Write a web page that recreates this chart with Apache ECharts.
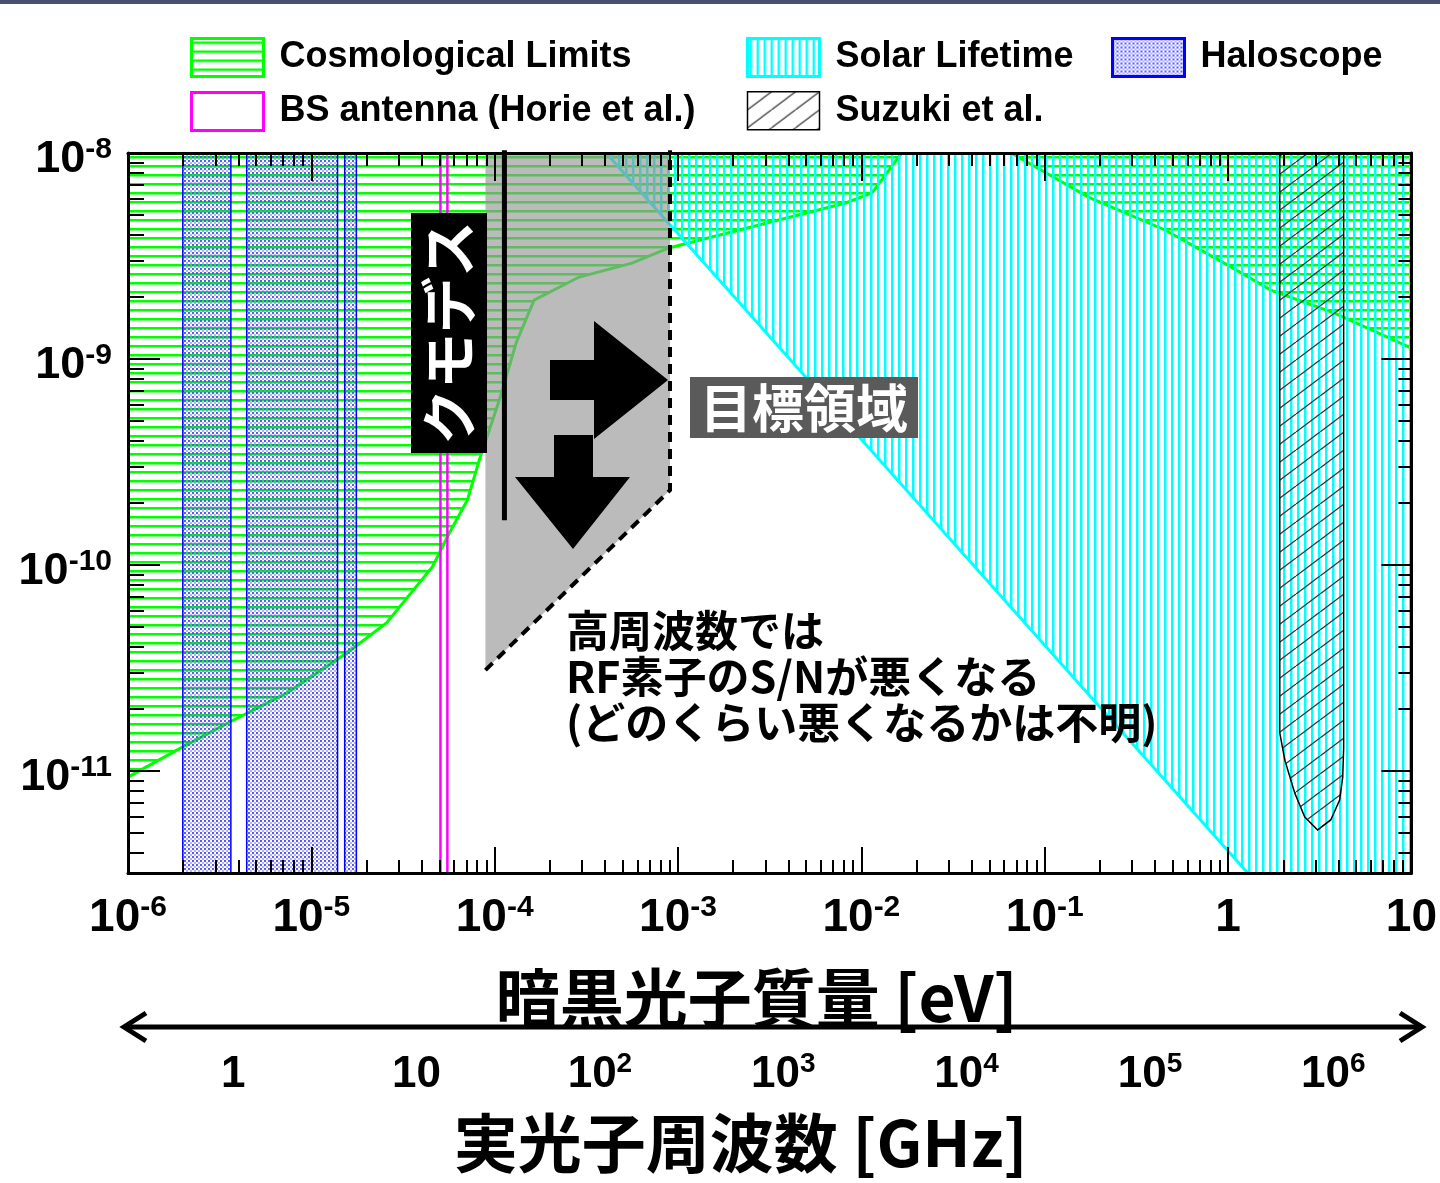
<!DOCTYPE html>
<html>
<head>
<meta charset="utf-8">
<title>暗黒光子探索 感度領域</title>
<script src="https://cdn.jsdelivr.net/npm/echarts@6/dist/echarts.min.js"></script>
<style>
html, body { margin: 0; padding: 0; background: #fff; }
#chart { width: 1440px; height: 1183px; }
</style>
</head>
<body>
<div id="chart"></div>
<script>
// axis ranges
var massMin = 1e-6, massMax = 10;        // eV
var epsMin = 3.2e-12, epsMax = 1e-8;     // kinetic mixing
var eVperGHz = 3.75e-6;                  // where the GHz scale sits on the eV axis

// tick labels
var massTicks = [1e-6, 1e-5, 1e-4, 1e-3, 1e-2, 1e-1, 1, 10];
var epsTicks = [1e-11, 1e-10, 1e-9, 1e-8];
var freqTicks = [1, 10, 1e2, 1e3, 1e4, 1e5, 1e6];

// Cosmological limits, lower edge (left part rising to the top, right part falling)
var cosmoLeftX = [1e-6, 1.99e-6, 3.59e-6, 7.34e-6, 1.56e-5, 2.57e-5, 4.57e-5, 5.66e-5, 7.10e-5, 8.24e-5,
                  1.06e-4, 1.31e-4, 1.64e-4, 2.89e-4, 5.61e-4, 8.92e-4, 1.53e-3, 3.54e-3, 8.20e-3, 1.14e-2, 1.66e-2];
var cosmoLeftY = [9.35e-12, 1.31e-11, 1.73e-11, 2.39e-11, 3.74e-11, 5.23e-11, 9.78e-11, 1.43e-10, 2.07e-10, 3.23e-10,
                  6.32e-10, 1.20e-9, 1.93e-9, 2.50e-9, 2.92e-9, 3.46e-9, 3.91e-9, 4.73e-9, 5.72e-9, 6.39e-9, 1e-8];
var cosmoRightX = [6.57e-2, 0.173, 0.453, 1.035, 1.71, 3.81, 10];
var cosmoRightY = [1e-8, 6.11e-9, 4.23e-9, 2.80e-9, 2.16e-9, 1.67e-9, 1.13e-9];

// Solar lifetime, lower edge
var solarX = [4.05e-4, 1.28];
var solarY = [1e-8, 3.2e-12];

// Haloscope bands (eV)
var haloLo = [1.99e-6, 4.44e-6, 1.52e-5];
var haloHi = [3.64e-6, 1.39e-5, 1.76e-5];

// BS antenna (Horie et al.)
var bsX = [5.06e-5, 5.52e-5];

// Suzuki et al. contour
var suzukiX = [1.914, 1.914, 2.04, 2.31, 2.62, 3.08, 3.63, 4.06, 4.22, 4.27, 4.27];
var suzukiY = [1e-8, 1.53e-11, 1.13e-11, 7.82e-12, 5.98e-12, 5.17e-12, 5.79e-12, 7.23e-12, 9.35e-12, 1.3e-11, 1e-8];

// target region (gray) and the クモデス reach
var targetX = [8.9e-5, 8.9e-5, 9.04e-4, 9.04e-4];
var targetY = [1e-8, 3.09e-11, 2.31e-10, 1.03e-8];
var kumodesX = [1.13e-4, 1.13e-4];
var kumodesY = [1.03e-8, 1.65e-10];

var NUM = 'Liberation Sans, Arial, sans-serif';
var JP = 'Noto Sans CJK JP, sans-serif';

function makePattern(w, h, draw) {
    var c = document.createElement('canvas');
    c.width = w; c.height = h;
    draw(c.getContext('2d'), w, h);
    return { image: c, repeat: 'repeat' };
}
var greenPat = makePattern(8, 9, function (ctx, w) {
    ctx.fillStyle = '#00ff00';
    ctx.fillRect(0, 3, w, 2.5);
});
var cyanPat = makePattern(7, 8, function (ctx, w, h) {
    ctx.fillStyle = '#00ffff';
    ctx.fillRect(2, 0, 2.5, h);
});
var dotPat = makePattern(4, 4, function (ctx) {
    ctx.fillStyle = 'rgba(80,80,255,1)';
    ctx.beginPath(); ctx.arc(1, 1, 1.15, 0, Math.PI * 2); ctx.fill();
    ctx.fillStyle = 'rgba(80,80,255,0.6)';
    ctx.beginPath(); ctx.arc(3, 3, 1, 0, Math.PI * 2); ctx.fill();
});
var hatchPat = makePattern(24, 18, function (ctx, w, h) {
    ctx.strokeStyle = '#333';
    ctx.lineWidth = 1.3;
    for (var k = -1; k <= 1; k++) {
        ctx.beginPath(); ctx.moveTo(k * w, h); ctx.lineTo(k * w + w, 0); ctx.stroke();
    }
});

function pts(api, xs, ys) {
    return xs.map(function (x, i) { return api.coord([x, ys[i]]); });
}

function minorTicks(lo, hi) {
    var out = [];
    for (var d = Math.floor(Math.log10(lo)); d < Math.ceil(Math.log10(hi)); d++) {
        for (var k = 2; k < 10; k++) {
            var v = k * Math.pow(10, d);
            if (v > lo && v < hi) out.push(v);
        }
    }
    return out;
}

function expLabel(v) {
    var e = Math.round(Math.log10(v));
    if (e === 0) return '1';
    if (e === 1) return '10';
    return '{b|10}{s|' + e + '}';
}

function tickAxis(kind, pos, len, ticks, extra) {
    var a = {
        type: 'log', logBase: 10, position: pos, z: 10,
        min: kind === 'x' ? massMin : epsMin,
        max: kind === 'x' ? massMax : epsMax,
        splitLine: { show: false },
        axisLine: { show: false },
        axisLabel: { show: false },
        axisTick: { show: true, inside: true, length: len, customValues: ticks, lineStyle: { color: '#000', width: 2 } }
    };
    return Object.assign(a, extra || {});
}

var frameLine = { show: true, onZero: false, lineStyle: { color: '#000', width: 3 } };
var supRich = {
    b: { fontSize: 46, fontWeight: 'bold', fontFamily: NUM, lineHeight: 50, color: '#000' },
    s: { fontSize: 30, fontWeight: 'bold', fontFamily: NUM, lineHeight: 30, verticalAlign: 'top', color: '#000' }
};
var legendText = { fontSize: 36, fontWeight: 'bold', fontFamily: NUM, color: '#000', lineHeight: 38, padding: [0, 0, 0, 11] };
var nameText = { fontSize: 64, fontWeight: 'bold', fontFamily: JP, color: '#000', lineHeight: 68 };

var chart = echarts.init(document.getElementById('chart'));
var option = {
    animation: false,
    backgroundColor: '#fff',
    grid: { left: 128, right: 27, top: 153, bottom: 310 },
    legend: [
        { left: 190, top: 37, orient: 'vertical', padding: 0, itemWidth: 72, itemHeight: 38, itemGap: 13,
          icon: 'rect', selectedMode: false, textStyle: legendText,
          data: [
            { name: 'Cosmological Limits', itemStyle: { color: greenPat, borderColor: '#00ff00', borderWidth: 3 } },
            { name: 'BS antenna (Horie et al.)', itemStyle: { color: '#fff', borderColor: '#ff00ff', borderWidth: 3 } }
          ] },
        { left: 746, top: 37, orient: 'vertical', padding: 0, itemWidth: 72, itemHeight: 38, itemGap: 13,
          icon: 'rect', selectedMode: false, textStyle: legendText,
          data: [
            { name: 'Solar Lifetime', itemStyle: { color: cyanPat, borderColor: '#00ffff', borderWidth: 3 } },
            { name: 'Suzuki et al.', itemStyle: { color: hatchPat, borderColor: '#000', borderWidth: 1.5 } }
          ] },
        { left: 1111, top: 37, orient: 'vertical', padding: 0, itemWidth: 72, itemHeight: 38, itemGap: 13,
          icon: 'rect', selectedMode: false, textStyle: legendText,
          data: [
            { name: 'Haloscope', itemStyle: { color: dotPat, borderColor: '#0000ff', borderWidth: 3 } }
          ] }
    ],
    xAxis: [
        tickAxis('x', 'bottom', 26, massTicks, {
            axisLine: frameLine,
            axisLabel: { show: true, customValues: massTicks, margin: 20, formatter: expLabel,
                         fontSize: 46, fontWeight: 'bold', fontFamily: NUM, lineHeight: 50, color: '#000', rich: supRich },
            name: '暗黒光子質量 [eV]', nameLocation: 'middle', nameGap: 91,
            nameTextStyle: Object.assign({ padding: [0, 26, 0, 0] }, nameText)
        }),
        tickAxis('x', 'bottom', 13, minorTicks(massMin, massMax)),
        tickAxis('x', 'top', 28, massTicks, { axisLine: frameLine }),
        tickAxis('x', 'top', 13, minorTicks(massMin, massMax)),
        {
            type: 'log', logBase: 10, position: 'bottom', offset: 154,
            min: massMin / eVperGHz, max: massMax / eVperGHz,
            splitLine: { show: false }, axisLine: { show: false }, axisTick: { show: false },
            axisLabel: { customValues: freqTicks, margin: 23, formatter: expLabel,
                         fontSize: 44, fontWeight: 'bold', fontFamily: NUM, lineHeight: 50, color: '#000',
                         rich: {
                            b: { fontSize: 44, fontWeight: 'bold', fontFamily: NUM, lineHeight: 50, color: '#000' },
                            s: { fontSize: 28, fontWeight: 'bold', fontFamily: NUM, lineHeight: 28, verticalAlign: 'top', color: '#000' }
                         } },
            name: '実光子周波数 [GHz]', nameLocation: 'middle', nameGap: 82,
            nameTextStyle: Object.assign({ padding: [0, 58, 0, 0] }, nameText)
        }
    ],
    yAxis: [
        tickAxis('y', 'left', 32, epsTicks, {
            axisLine: frameLine,
            axisLabel: { show: true, customValues: epsTicks, margin: 16, formatter: expLabel, padding: [14, 0, 0, 0],
                         fontSize: 44, fontWeight: 'bold', fontFamily: NUM, color: '#000',
                         rich: {
                            b: { fontSize: 45, fontWeight: 'bold', fontFamily: NUM, lineHeight: 50, color: '#000' },
                            s: { fontSize: 30, fontWeight: 'bold', fontFamily: NUM, lineHeight: 30, verticalAlign: 'top', color: '#000' }
                         } }
        }),
        tickAxis('y', 'left', 16, minorTicks(epsMin, epsMax)),
        tickAxis('y', 'right', 30, epsTicks, { axisLine: frameLine }),
        tickAxis('y', 'right', 13, minorTicks(epsMin, epsMax))
    ],
    series: [
        {
            type: 'custom', name: 'Cosmological Limits', clip: true, z: 2,
            data: [[cosmoLeftX[0], cosmoLeftY[0]]],
            renderItem: function (params, api) {
                var left = pts(api, cosmoLeftX, cosmoLeftY);
                var right = pts(api, cosmoRightX, cosmoRightY);
                var poly = [api.coord([massMin, epsMax])].concat(left, right, [api.coord([massMax, epsMax])]);
                return { type: 'group', children: [
                    { type: 'polygon', shape: { points: poly }, style: { fill: greenPat } },
                    { type: 'polyline', shape: { points: left }, style: { fill: null, stroke: '#00ff00', lineWidth: 3 } },
                    { type: 'polyline', shape: { points: right }, style: { fill: null, stroke: '#00ff00', lineWidth: 3 } }
                ] };
            }
        },
        {
            type: 'custom', name: 'Solar Lifetime', clip: true, z: 3,
            data: [[solarX[0], solarY[0]]],
            renderItem: function (params, api) {
                var line = pts(api, solarX, solarY);
                var poly = line.concat([api.coord([massMax, epsMin]), api.coord([massMax, epsMax])]);
                return { type: 'group', children: [
                    { type: 'polygon', shape: { points: poly }, style: { fill: cyanPat } },
                    { type: 'polyline', shape: { points: line }, style: { fill: null, stroke: '#00ffff', lineWidth: 3 } }
                ] };
            }
        },
        {
            type: 'custom', name: 'Haloscope', clip: true, z: 4,
            data: haloLo.map(function (lo, i) { return [lo, haloHi[i]]; }),
            renderItem: function (params, api) {
                var lo = api.value(0), hi = api.value(1);
                var poly = [api.coord([lo, epsMax]), api.coord([hi, epsMax]), api.coord([hi, epsMin]), api.coord([lo, epsMin])];
                return { type: 'polygon', shape: { points: poly }, style: { fill: dotPat, stroke: '#0000ff', lineWidth: 1.5 } };
            }
        },
        {
            type: 'custom', name: 'BS antenna (Horie et al.)', clip: true, z: 4,
            data: bsX.map(function (x) { return [x, epsMin]; }),
            renderItem: function (params, api) {
                var x = api.value(0);
                var a = api.coord([x, epsMax]), b = api.coord([x, epsMin]);
                return { type: 'line', shape: { x1: a[0], y1: a[1], x2: b[0], y2: b[1] }, style: { stroke: '#ff00ff', lineWidth: 2.5 } };
            }
        },
        {
            type: 'custom', name: 'Suzuki et al.', clip: true, z: 5,
            data: [[suzukiX[0], suzukiY[0]]],
            renderItem: function (params, api) {
                return { type: 'polygon', shape: { points: pts(api, suzukiX, suzukiY) },
                         style: { fill: hatchPat, stroke: '#000', lineWidth: 1.5 } };
            }
        },
        {
            type: 'custom', name: 'target', clip: false, z: 6,
            data: [[targetX[0], targetY[0]]],
            renderItem: function (params, api) {
                var p = pts(api, targetX, targetY);
                var k = pts(api, kumodesX, kumodesY);
                var top = api.coord([targetX[0], epsMax]);
                var fill = [top, p[1], p[2], [p[3][0], top[1]]];
                return { type: 'group', children: [
                    { type: 'polygon', shape: { points: fill }, style: { fill: 'rgba(150,150,150,0.65)' } },
                    { type: 'polyline', shape: { points: [p[1], p[2], p[3]] },
                      style: { fill: null, stroke: '#000', lineWidth: 4, lineDash: [10, 7] } },
                    { type: 'line', shape: { x1: k[0][0], y1: k[0][1], x2: k[1][0], y2: k[1][1] },
                      style: { stroke: '#000', lineWidth: 5 } }
                ] };
            }
        }
    ],
    graphic: [
        { type: 'rect', left: 0, top: 0, shape: { width: 1440, height: 4 }, style: { fill: '#465170' }, z: 30 },
        // arrows in the target region
        { type: 'polygon', z: 30, shape: { points: [[550, 360], [594, 360], [594, 321], [668, 380], [594, 439], [594, 400], [550, 400]] }, style: { fill: '#000' } },
        { type: 'polygon', z: 30, shape: { points: [[554, 435], [593, 435], [593, 477], [630, 477], [573, 549], [515, 477], [554, 477]] }, style: { fill: '#000' } },
        // クモデス label
        { type: 'rect', z: 30, shape: { x: 411, y: 213, width: 76, height: 240 }, style: { fill: '#000' } },
        { type: 'text', z: 31, x: 449, y: 333, rotation: Math.PI / 2,
          style: { text: 'クモデス', fill: '#fff', font: 'bold 56px ' + JP, align: 'center', verticalAlign: 'middle' } },
        // 目標領域 label
        { type: 'rect', z: 30, shape: { x: 690, y: 377, width: 228, height: 61 }, style: { fill: '#5a5a5a' } },
        { type: 'text', z: 31, x: 804, y: 408,
          style: { text: '目標領域', fill: '#fff', font: 'bold 52px ' + JP, align: 'center', verticalAlign: 'middle' } },
        // note
        { type: 'text', z: 31, x: 566, y: 608,
          style: { text: '高周波数では\nRF素子のS/Nが悪くなる\n(どのくらい悪くなるかは不明)', fill: '#000',
                   font: 'bold 43px ' + JP, lineHeight: 46, align: 'left', verticalAlign: 'top' } },
        // double arrow between the two scales
        { type: 'line', z: 30, shape: { x1: 124, y1: 1027, x2: 1422, y2: 1027 }, style: { stroke: '#000', lineWidth: 5 } },
        { type: 'polyline', z: 30, shape: { points: [[146, 1013], [124, 1027], [146, 1041]] }, style: { fill: null, stroke: '#000', lineWidth: 5 } },
        { type: 'polyline', z: 30, shape: { points: [[1400, 1013], [1422, 1027], [1400, 1041]] }, style: { fill: null, stroke: '#000', lineWidth: 5 } }
    ]
};
chart.setOption(option);
</script>
</body>
</html>
